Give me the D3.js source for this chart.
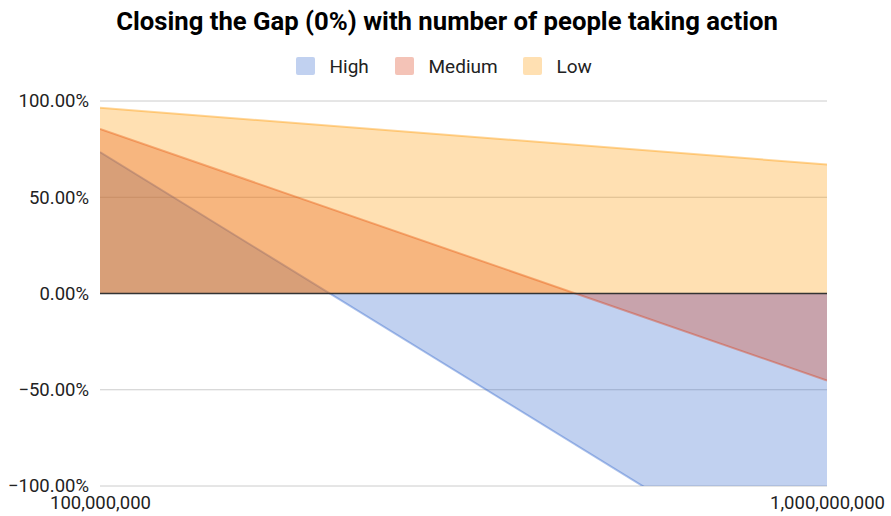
<!DOCTYPE html>
<html><head><meta charset="utf-8">
<script src="https://cdn.jsdelivr.net/npm/d3@7"></script>
<style>
body{margin:0;background:#fff;}
svg{font-family:Roboto,"Noto Sans",sans-serif;}
</style></head><body>
<svg id="c" width="891" height="516"></svg>
<script>
const people = [100000000, 1000000000];
const seriesNames = ["High", "Medium", "Low"];
const highValues = [0.735, -1.59];
const mediumValues = [0.855, -0.452];
const lowValues = [0.965, 0.67];
const yTicks = [-1, -0.5, 0, 0.5, 1];
const xTicks = [100000000, 1000000000];
const colors = ["#3366cc", "#dc3912", "#ff9900"];

const svg = d3.select("#c");
const x = d3.scaleLog().domain([1e8, 1e9]).range([100, 827]);
const y = d3.scaleLinear().domain([-1, 1]).range([486, 101]);

svg.append("defs").append("clipPath").attr("id","clip")
  .append("rect").attr("x",100).attr("y",101).attr("width",727).attr("height",385);

const yAxis = d3.axisLeft(y).tickValues(yTicks).tickFormat(d3.format(".2%")).tickSize(0).tickPadding(11);
const gy = svg.append("g").attr("transform","translate(100,0)").call(yAxis);
gy.select(".domain").remove();
gy.selectAll("text").attr("font-size",18.5).attr("fill","#222").attr("font-family","Roboto");
svg.append("g").selectAll("line").data(yTicks.filter(d=>d!==0)).join("line")
  .attr("x1",100).attr("x2",827).attr("y1",d=>y(d)).attr("y2",d=>y(d))
  .attr("stroke","#cccccc").attr("stroke-width",1);

const seriesData = [highValues, mediumValues, lowValues];
const g = svg.append("g").attr("clip-path","url(#clip)");
seriesData.forEach((vals, i) => {
  const pts = people.map((p, j) => [p, vals[j]]);
  const area = d3.area().x(d=>x(d[0])).y0(y(0)).y1(d=>y(d[1]));
  const line = d3.line().x(d=>x(d[0])).y(d=>y(d[1]));
  g.append("path").datum(pts).attr("d", area).attr("fill", colors[i]).attr("fill-opacity",0.3);
  g.append("path").datum(pts).attr("d", line).attr("fill","none").attr("stroke", colors[i])
    .attr("stroke-opacity",0.4).attr("stroke-width",2);
});

svg.append("line").attr("x1",100).attr("x2",827).attr("y1",y(0)).attr("y2",y(0))
  .attr("stroke","#333").attr("stroke-width",1.3);

const xAxis = d3.axisBottom(x).tickValues(xTicks).tickFormat(d3.format(",")).tickSize(0).tickPadding(10);
const gx = svg.append("g").attr("transform","translate(0,486)").call(xAxis);
gx.select(".domain").remove();
gx.selectAll("text").attr("font-size",18.5).attr("fill","#222").attr("font-family","Roboto");

svg.append("text").attr("x",447).attr("y",30).attr("text-anchor","middle")
  .attr("font-size",25.7).attr("font-weight","bold").attr("fill","#000").attr("font-family","Roboto")
  .text("Closing the Gap (0%) with number of people taking action");

const legX = [296, 395, 523];
const lg = svg.append("g").selectAll("g").data(seriesNames).join("g")
  .attr("transform",(d,i)=>`translate(${legX[i]},57)`);
lg.append("rect").attr("width",19).attr("height",18).attr("rx",2)
  .attr("fill",(d,i)=>colors[i]).attr("fill-opacity",0.3);
lg.append("text").attr("x",33.5).attr("y",15.5).attr("font-size",19).attr("fill","#222")
  .attr("font-family","Roboto").text(d=>d);
</script></body></html>
